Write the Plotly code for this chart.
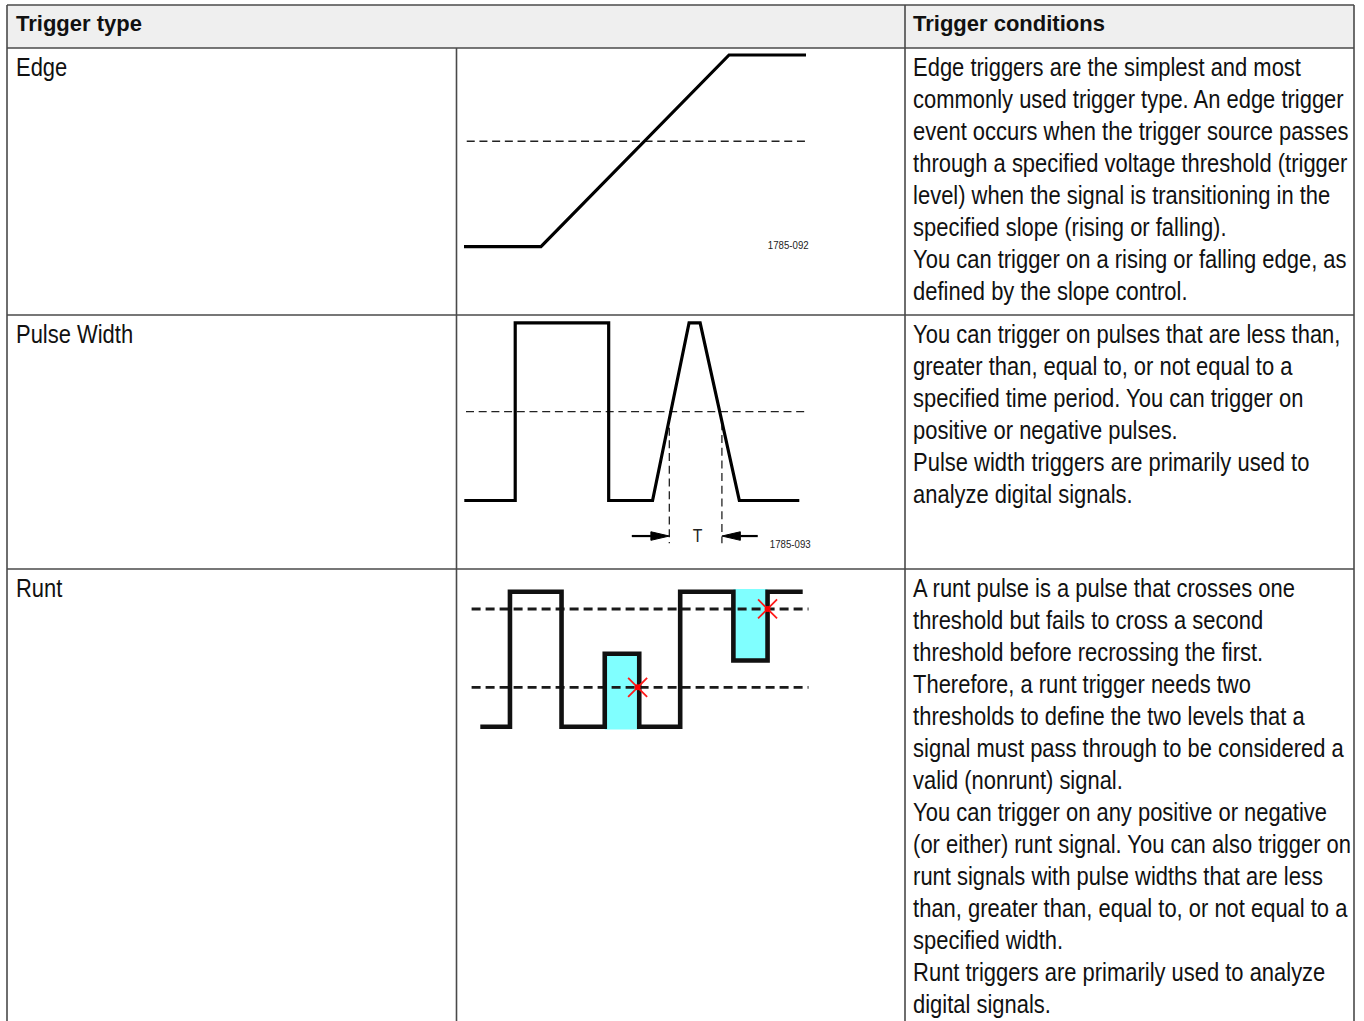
import json
import plotly.graph_objects as go

# ------------------------------------------------------------------ data
header_labels = ["Trigger type", "Trigger conditions"]
trigger_types = ["Edge", "Pulse Width", "Runt"]

conditions_edge = [
    "Edge triggers are the simplest and most",
    "commonly used trigger type. An edge trigger",
    "event occurs when the trigger source passes",
    "through a specified voltage threshold (trigger",
    "level) when the signal is transitioning in the",
    "specified slope (rising or falling).",
    "You can trigger on a rising or falling edge, as",
    "defined by the slope control.",
]
conditions_pulse = [
    "You can trigger on pulses that are less than,",
    "greater than, equal to, or not equal to a",
    "specified time period. You can trigger on",
    "positive or negative pulses.",
    "Pulse width triggers are primarily used to",
    "analyze digital signals.",
]
conditions_runt = [
    "A runt pulse is a pulse that crosses one",
    "threshold but fails to cross a second",
    "threshold before recrossing the first.",
    "Therefore, a runt trigger needs two",
    "thresholds to define the two levels that a",
    "signal must pass through to be considered a",
    "valid (nonrunt) signal.",
    "You can trigger on any positive or negative",
    "(or either) runt signal. You can also trigger on",
    "runt signals with pulse widths that are less",
    "than, greater than, equal to, or not equal to a",
    "specified width.",
    "Runt triggers are primarily used to analyze",
    "digital signals.",
]

# Edge diagram (time units 0..10, level 0=low 1=high)
edge_t = [0, 2.25, 7.75, 10]
edge_v = [0, 0, 1, 1]
edge_threshold = 0.55
edge_threshold_t = [0.08, 10.03]
edge_label = "1785-092"

# Pulse-width diagram
pulse_t = [0, 1.52, 1.52, 4.31, 4.31, 5.62, 6.71, 7.04, 8.21, 10]
pulse_v = [0, 0, 1, 1, 0, 0, 1, 1, 0, 0]
pulse_threshold = 0.5
pulse_threshold_t = [0.05, 10.17]
pulse_mark_t = [6.12, 7.69]        # limits of the measured width T
pulse_mark_top = [0.41, 0.44]
pulse_mark_bottom = -0.24
pulse_arrow_tail_t = [5.0, 8.76]
pulse_arrow_v = -0.20
pulse_width_label = "T"
pulse_label = "1785-093"

# Runt diagram
runt_t = [0, 0.92, 0.92, 2.52, 2.52, 3.86, 3.86, 4.93, 4.93, 6.20, 6.20, 7.85, 7.85, 8.91, 8.91, 10]
runt_v = [0, 0, 1, 1, 0, 0, 0.54, 0.54, 0, 0, 1, 1, 0.49, 0.49, 1, 1]
runt_thresholds = [0.292, 0.872]
runt_threshold_t = [-0.27, 10.18]
runt_region_t0 = [3.86, 7.85]
runt_region_t1 = [4.93, 8.91]
runt_region_v0 = [-0.02, 0.49]
runt_region_v1 = [0.54, 1.02]
runt_fail_t = [4.88, 8.91]
runt_fail_v = [0.292, 0.872]

# ------------------------------------------------------------------ layout constants
W, H = 1364, 1021
TL, TR, TT, HB = 7, 1354, 5, 48          # table left/right/top, header bottom
C1, C2 = 456.5, 905                       # column dividers
ROWS = [(48, 315), (315, 569), (569, 1030)]
LINE_C = "#4a4a4a"
FONT = "Liberation Sans Narrow, Arial Narrow, Liberation Sans, Arial, sans-serif"
BODY_SIZE = 25
HEAD_SIZE = 22
LINE_H = 32
TXT_C = "#111111"
NARROW = 0.878                            # horizontal condensing of body text

fig = go.Figure()


def yfrac(p):
    return 1 - p / H


def axis_range(px0, px1, u0, u1, c0, c1):
    s = (u1 - u0) / (px1 - px0)
    return [u0 + (c0 - px0) * s, u0 + (c1 - px0) * s]


def diagram_axes(n, cell, xmap, ymap):
    """cell=(x0,y0,x1,y1) px; xmap=(px_a, px_b, u_a, u_b); ymap likewise (pixel y downward)."""
    x0, y0, x1, y1 = cell
    xr = axis_range(*xmap, x0, x1)
    yr = axis_range(*ymap, y1, y0)
    common = dict(visible=False, fixedrange=True, showgrid=False, zeroline=False)
    fig.layout[f"xaxis{n}"] = dict(domain=[x0 / W, x1 / W], range=xr, anchor=f"y{n}", **common)
    fig.layout[f"yaxis{n}"] = dict(domain=[yfrac(y1), yfrac(y0)], range=yr, anchor=f"x{n}", **common)


# main pixel axes for the table frame / text
fig.update_layout(
    xaxis=dict(range=[0, W], domain=[0, 1], visible=False, fixedrange=True),
    yaxis=dict(range=[H, 0], domain=[0, 1], visible=False, fixedrange=True),
)

diagram_axes(2, (C1, ROWS[0][0], C2, ROWS[0][1]), (464, 806, 0, 10), (246.7, 55, 0, 1))
diagram_axes(3, (C1, ROWS[1][0], C2, ROWS[1][1]), (464.3, 799.3, 0, 10), (500.5, 322.8, 0, 1))
diagram_axes(4, (C1, ROWS[2][0], C2, H), (480.3, 802.7, 0, 10), (726.7, 591.7, 0, 1))

DASH_THIN = dict(color="#222", width=1.3, dash="8px,4.7px")

# ---------------- edge diagram
fig.add_trace(go.Scatter(x=edge_threshold_t, y=[edge_threshold] * 2, xaxis="x2", yaxis="y2",
                         mode="lines", line=DASH_THIN))
fig.add_trace(go.Scatter(x=edge_t, y=edge_v, xaxis="x2", yaxis="y2", mode="lines",
                         line=dict(color="black", width=3.2)))
fig.add_annotation(x=9.5, y=0.01, xref="x2", yref="y2", text=edge_label, showarrow=False,
                   font=dict(family=FONT, size=11, color="#222"))

# ---------------- pulse width diagram
fig.add_trace(go.Scatter(x=pulse_threshold_t, y=[pulse_threshold] * 2, xaxis="x3", yaxis="y3",
                         mode="lines", line=DASH_THIN))
for t, top in zip(pulse_mark_t, pulse_mark_top):
    fig.add_trace(go.Scatter(x=[t, t], y=[top, pulse_mark_bottom], xaxis="x3", yaxis="y3",
                             mode="lines", line=DASH_THIN))
fig.add_trace(go.Scatter(x=pulse_t, y=pulse_v, xaxis="x3", yaxis="y3", mode="lines",
                         line=dict(color="black", width=3.2)))
HEAD_LEN, HEAD_HALF = 0.55, 0.024
for tip, tail in zip(pulse_mark_t, pulse_arrow_tail_t):
    d = 1 if tail < tip else -1
    base = tip - d * HEAD_LEN
    fig.add_trace(go.Scatter(x=[tail, base], y=[pulse_arrow_v] * 2, xaxis="x3", yaxis="y3",
                             mode="lines", line=dict(color="black", width=2.2)))
    fig.add_trace(go.Scatter(x=[base, tip, base, base], y=[pulse_arrow_v + HEAD_HALF, pulse_arrow_v,
                                                          pulse_arrow_v - HEAD_HALF, pulse_arrow_v + HEAD_HALF],
                             xaxis="x3", yaxis="y3", mode="lines", fill="toself", fillcolor="black",
                             line=dict(color="black", width=1)))
fig.add_annotation(x=sum(pulse_mark_t) / 2 + 0.05, y=pulse_arrow_v, xref="x3", yref="y3",
                   text=pulse_width_label, showarrow=False, font=dict(family=FONT, size=18, color="#222"))
fig.add_annotation(x=9.75, y=-0.245, xref="x3", yref="y3", text=pulse_label, showarrow=False,
                   font=dict(family=FONT, size=11, color="#222"))

# ---------------- runt diagram
for t0, t1, v0, v1 in zip(runt_region_t0, runt_region_t1, runt_region_v0, runt_region_v1):
    fig.add_trace(go.Scatter(x=[t0, t1, t1, t0, t0], y=[v0, v0, v1, v1, v0], xaxis="x4", yaxis="y4",
                             mode="lines", fill="toself", fillcolor="#80ffff", line=dict(width=0)))
for th in runt_thresholds:
    fig.add_trace(go.Scatter(x=runt_threshold_t, y=[th] * 2, xaxis="x4", yaxis="y4", mode="lines",
                             line=dict(color="#1a1a1a", width=2.8, dash="9px,5px")))
fig.add_trace(go.Scatter(x=runt_t, y=runt_v, xaxis="x4", yaxis="y4", mode="lines",
                         line=dict(color="#111", width=4.6)))
fig.add_trace(go.Scatter(x=runt_fail_t, y=runt_fail_v, xaxis="x4", yaxis="y4", mode="markers",
                         marker=dict(symbol="x-thin-open", size=19, color="#ff1a1a",
                                     line=dict(color="#ff1a1a", width=1.8))))
fig.add_trace(go.Scatter(x=runt_fail_t, y=runt_fail_v, xaxis="x4", yaxis="y4", mode="markers",
                         marker=dict(symbol="circle", size=6, color="#ff0000", line=dict(width=0))))

# ---------------- table frame
shapes = [
    dict(type="rect", x0=TL, x1=TR, y0=TT, y1=HB, fillcolor="#efefef", line=dict(width=0), layer="below"),
    dict(type="line", x0=TL, x1=TR, y0=TT, y1=TT),
    dict(type="line", x0=TL, x1=TR, y0=HB, y1=HB),
    dict(type="line", x0=TL, x1=TL, y0=TT, y1=ROWS[2][1]),
    dict(type="line", x0=TR, x1=TR, y0=TT, y1=ROWS[2][1]),
    dict(type="line", x0=C2, x1=C2, y0=TT, y1=ROWS[2][1]),
    dict(type="line", x0=C1, x1=C1, y0=HB, y1=ROWS[2][1]),
]
for r in ROWS[1:]:
    shapes.append(dict(type="line", x0=TL, x1=TR, y0=r[0], y1=r[0]))
for s in shapes:
    s.setdefault("xref", "x")
    s.setdefault("yref", "y")
    if s["type"] == "line":
        s["line"] = dict(color=LINE_C, width=1.6)
fig.update_layout(shapes=shapes)

# ---------------- text
def add_text(x, y, txt, size=BODY_SIZE, bold=False):
    fig.add_annotation(x=x, y=y, xref="x", yref="y", text=f"<b>{txt}</b>" if bold else txt,
                       showarrow=False, xanchor="left", yanchor="middle", borderpad=0,
                       font=dict(family=FONT, size=size, color=TXT_C))

add_text(15, 23.5, header_labels[0], HEAD_SIZE, True)
add_text(912, 23.5, header_labels[1], HEAD_SIZE, True)
for (r0, _), name, lines in zip(ROWS, trigger_types, [conditions_edge, conditions_pulse, conditions_runt]):
    add_text(15, r0 + 19, name)
    for i, ln in enumerate(lines):
        add_text(912, r0 + 19 + i * LINE_H, ln)

fig.update_layout(width=W, height=H, margin=dict(l=0, r=0, t=0, b=0), showlegend=False,
                  paper_bgcolor="white", plot_bgcolor="rgba(0,0,0,0)", hovermode=False)

# condense the (non-bold) text horizontally, as the narrow face of the reference is not installed
centered = [edge_label, pulse_label, pulse_width_label]
post = """
document.body.style.margin='0';document.body.style.overflow='hidden';
(function(){
  var skip = %s, centered = %s, sc = %s;
  function condense(){
    document.querySelectorAll('.annotation-text').forEach(function(el){
      var t = el.textContent;
      if (skip.indexOf(t) >= 0) return;
      el.style.transformBox = 'fill-box';
      el.style.transformOrigin = (centered.indexOf(t) >= 0 ? '50%%' : '0%%') + ' 50%%';
      el.style.transform = 'scaleX(' + sc + ')';
    });
  }
  condense(); setTimeout(condense, 0); setTimeout(condense, 100); setTimeout(condense, 400);
})();
""" % (json.dumps(header_labels), json.dumps(centered), NARROW)

fig.write_html("out.html", config={"displayModeBar": False}, post_script=post)
